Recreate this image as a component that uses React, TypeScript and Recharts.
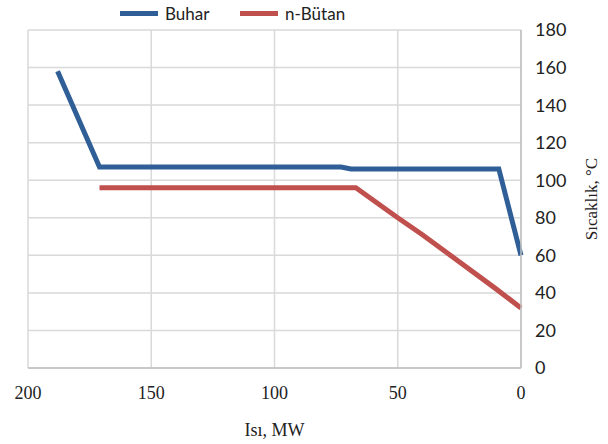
import { LineChart, Line, XAxis, YAxis, CartesianGrid, Label } from "recharts";

// Heat (MW) vs temperature (°C)
const buharX = [188, 171, 73, 69, 9, 0];
const buharY = [158, 107, 107, 106, 106, 60];
const butanX = [171, 67, 50, 40, 10, 0];
const butanY = [96, 96, 80, 71, 42, 32];

const xTicks = [0, 50, 100, 150, 200];
const yTicks = [0, 20, 40, 60, 80, 100, 120, 140, 160, 180];

const buhar = buharX.map((x, i) => ({ x, y: buharY[i] }));
const butan = butanX.map((x, i) => ({ x, y: butanY[i] }));

const BLUE = "#2f5f96";
const RED = "#c0504d";

function TopLegend() {
  const item = (color: string, text: string, left: number) => (
    <div style={{ position: "absolute", left, top: 3, display: "flex", alignItems: "center" }}>
      <div style={{ width: 38, height: 5, background: color, marginRight: 7 }} />
      <span style={{ fontFamily: "Lato, 'Open Sans', sans-serif", fontSize: 17, color: "#222" }}>{text}</span>
    </div>
  );
  return (
    <>
      {item(BLUE, "Buhar", 120)}
      {item(RED, "n-Bütan", 240)}
    </>
  );
}

export default function App() {
  return (
    <div style={{ position: "absolute", left: 0, top: 0, width: 608, height: 444, background: "#fff" }}>
      <TopLegend />
      <LineChart width={608} height={444} margin={{ top: 30, right: 37, bottom: 0, left: 28 }}>
        <CartesianGrid stroke="#d9d9d9" strokeWidth={1.5} />
        <XAxis
          type="number"
          dataKey="x"
          domain={[0, 200]}
          ticks={xTicks}
          reversed
          allowDuplicatedCategory={false}
          stroke="#bfbfbf"
          strokeWidth={1.5}
          tickLine={false}
          tickMargin={12}
          height={76}
          tick={{ fill: "#222", fontFamily: "'Liberation Serif', 'Times New Roman', serif", fontSize: 18 }}
        >
          <Label
            value="Isı, MW"
            position="insideBottom"
            offset={8}
            style={{ fill: "#222", fontFamily: "'Liberation Serif', 'Times New Roman', serif", fontSize: 18 }}
          />
        </XAxis>
        <YAxis
          type="number"
          orientation="right"
          domain={[0, 180]}
          ticks={yTicks}
          width={50}
          stroke="#bfbfbf"
          strokeWidth={1.5}
          tickLine={false}
          tickMargin={8}
          tick={{ fill: "#222", fontFamily: "Lato, 'Open Sans', sans-serif", fontSize: 18 }}
        >
          <Label
            value="Sıcaklık, °C"
            angle={-90}
            position="right"
            offset={20}
            style={{ fill: "#222", fontFamily: "'Liberation Serif', 'Times New Roman', serif", fontSize: 17, textAnchor: "middle" }}
          />
        </YAxis>
        <Line
          data={buhar}
          dataKey="y"
          type="linear"
          stroke={BLUE}
          strokeWidth={5}
          dot={false}
          isAnimationActive={false}
        />
        <Line
          data={butan}
          dataKey="y"
          type="linear"
          stroke={RED}
          strokeWidth={5}
          dot={false}
          isAnimationActive={false}
        />
      </LineChart>
    </div>
  );
}
